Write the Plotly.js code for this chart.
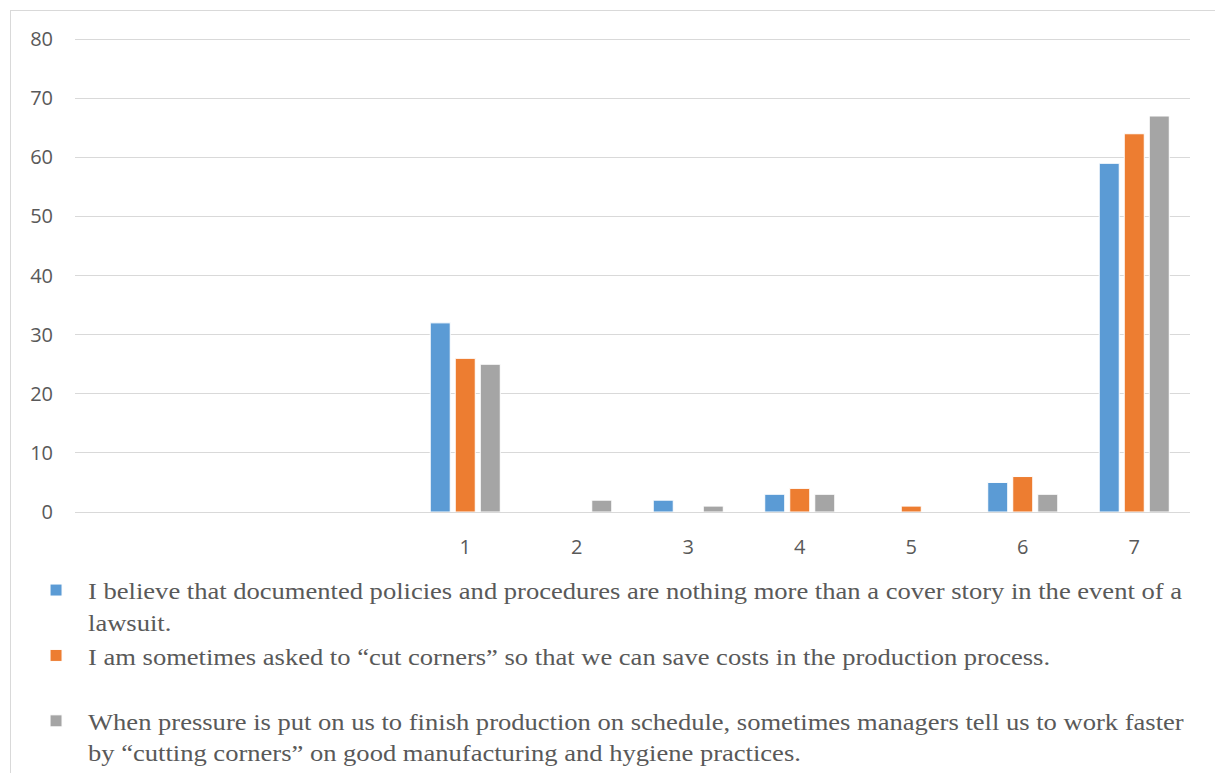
<!DOCTYPE html>
<html>
<head>
<meta charset="utf-8">
<script src="https://cdn.plot.ly/plotly-3.0.1.min.js"></script>
<style>
  html, body { margin: 0; padding: 0; background: #ffffff; }
  #frame { position: absolute; left: 10px; top: 10px; width: 1300px; height: 900px;
           border-left: 1px solid #d9d9d9; border-top: 1px solid #d9d9d9; }
  #chart { position: absolute; left: 0; top: 0; width: 1215px; height: 773px; }
</style>
</head>
<body>
<div id="frame"></div>
<div id="chart"></div>
<script>
const categories = ["", "", "", "1", "2", "3", "4", "5", "6", "7"];
const seriesNames = [
  "I believe that documented policies and procedures are nothing more than a cover story in the event of a<br>lawsuit.",
  "I am sometimes asked to “cut corners” so that we can save costs in the production process.<br> ",
  "When pressure is put on us to finish production on schedule, sometimes managers tell us to work faster<br>by “cutting corners” on good manufacturing and hygiene practices."
];
const policiesCoverStory = [null, null, null, 32, 0, 2, 3, 0, 5, 59];
const askedCutCorners    = [null, null, null, 26, 0, 0, 4, 1, 6, 64];
const managersFaster     = [null, null, null, 25, 2, 1, 3, 0, 3, 67];
const colors = ["#5B9BD5", "#ED7D31", "#A5A5A5"];
const yTicks = [0, 10, 20, 30, 40, 50, 60, 70, 80];

const xIdx = categories.map((c, i) => i);
const series = [policiesCoverStory, askedCutCorners, managersFaster];
const traces = series.map((vals, k) => ({
  type: "bar",
  x: xIdx,
  y: vals,
  name: seriesNames[k],
  marker: { color: colors[k], line: { color: "#ffffff", width: 1 } },
  hoverinfo: "y"
}));

const tickFont = { family: "Open Sans, sans-serif", size: 20, color: "#595959" };

const layout = {
  width: 1215,
  height: 773,
  paper_bgcolor: "rgba(0,0,0,0)",
  plot_bgcolor: "rgba(0,0,0,0)",
  margin: { l: 75, r: 25, t: 38, b: 261, autoexpand: false },
  barmode: "group",
  bargap: 0.327,
  bargroupgap: 0.2,
  showlegend: true,
  xaxis: {
    range: [-0.5, categories.length - 0.5],
    tickvals: xIdx,
    ticktext: categories,
    showgrid: false,
    zeroline: false,
    showline: true,
    linecolor: "#d9d9d9",
    linewidth: 1,
    ticks: "",
    ticklabelstandoff: 17,
    tickfont: tickFont,
    fixedrange: true
  },
  yaxis: {
    range: [0, 80.2],
    tickvals: yTicks,
    showgrid: true,
    gridcolor: "#d9d9d9",
    gridwidth: 1,
    zeroline: false,
    showline: false,
    ticks: "",
    ticklabelstandoff: 21,
    tickfont: tickFont,
    fixedrange: true
  },
  legend: {
    orientation: "v",
    x: -0.0457,
    xanchor: "left",
    y: -0.118,
    yanchor: "top",
    valign: "top",
    itemwidth: 54,
    font: { family: "Liberation Serif, serif", size: 24, color: "#595959" },
    bgcolor: "rgba(0,0,0,0)",
    traceorder: "normal",
    itemclick: false,
    itemdoubleclick: false
  }
};

Plotly.newPlot("chart", traces, layout, { displayModeBar: false, staticPlot: true }).then(function (gd) {
  // widen the serif legend text horizontally, as in the original figure
  const s = 1.107;
  gd.querySelectorAll(".legend .scrollbox").forEach(function (e) { e.removeAttribute("clip-path"); });
  gd.querySelectorAll(".legend .legendtext").forEach(function (t) {
    const x0 = parseFloat(t.getAttribute("x")) || 0;
    t.setAttribute("transform", "translate(" + (x0 * (1 - s)) + ",0) scale(" + s + ",1)");
  });
});
</script>
</body>
</html>
